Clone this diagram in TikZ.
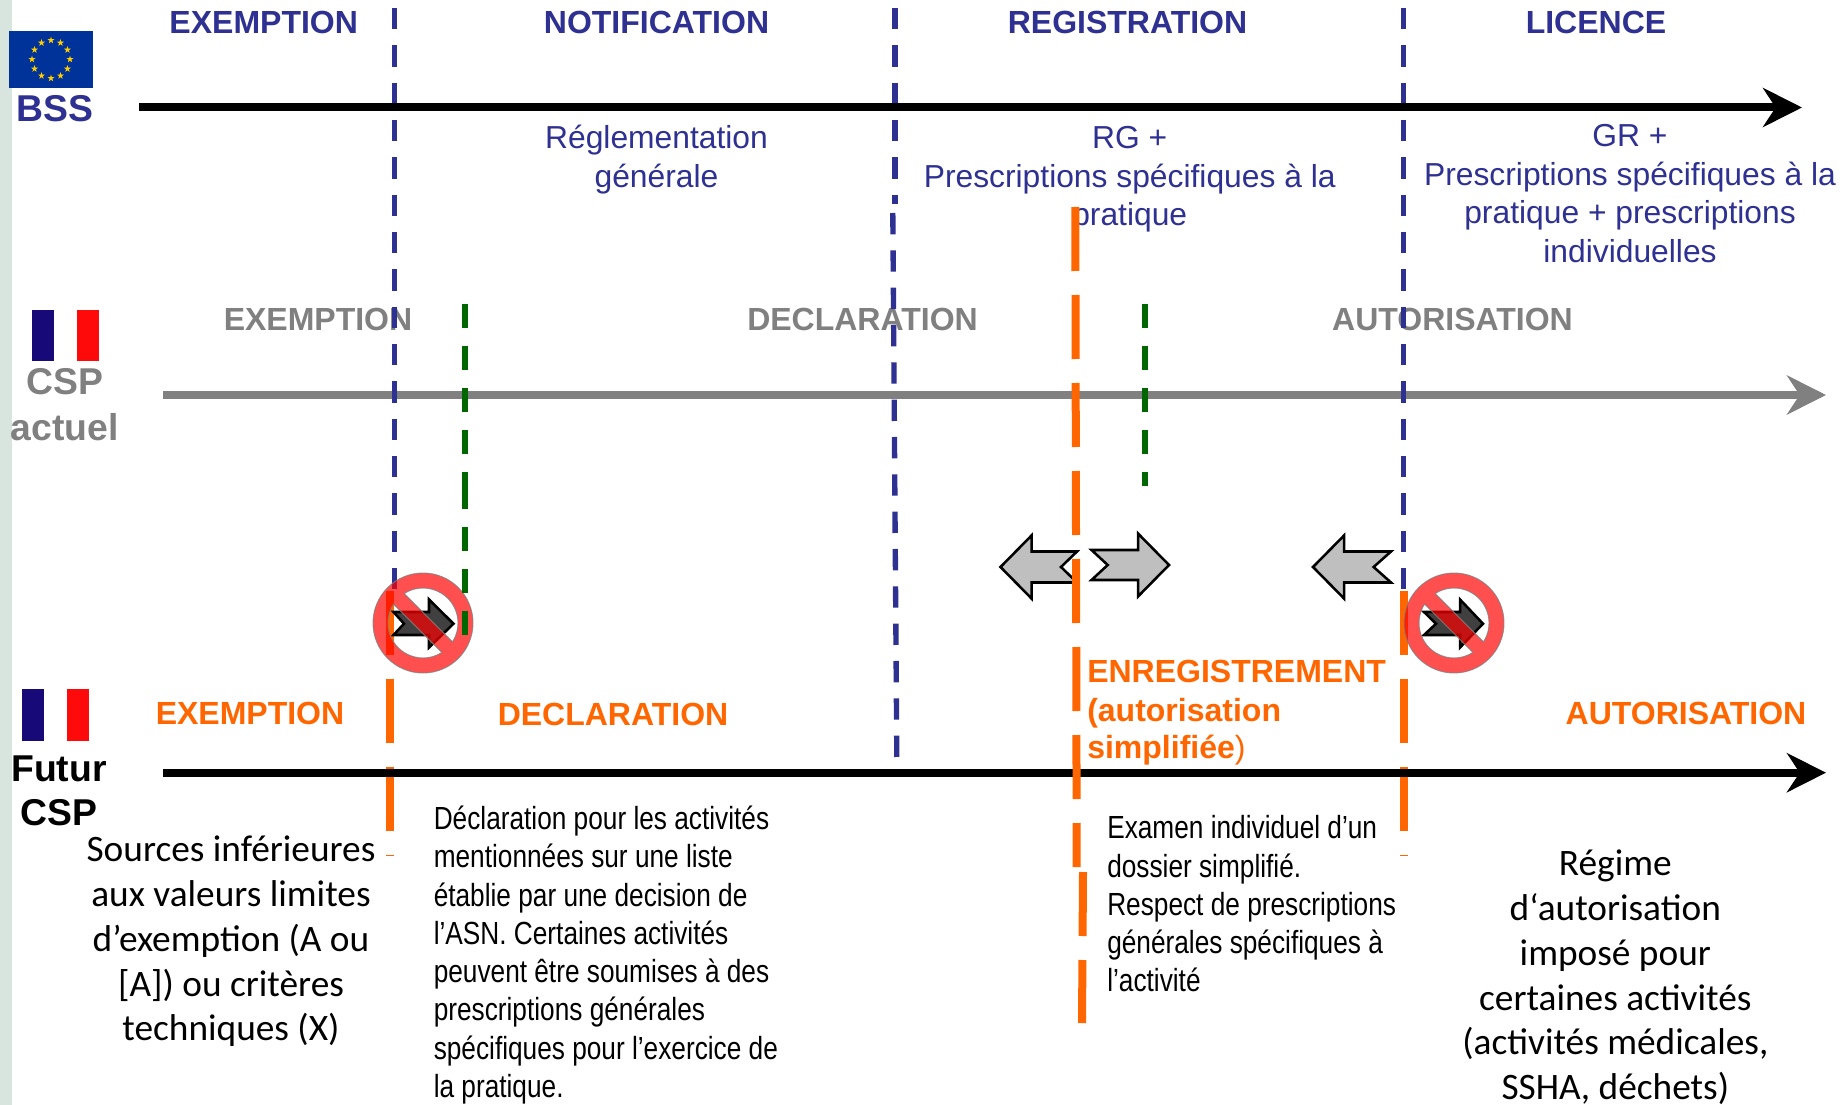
\documentclass[tikz,border=0pt]{standalone}
\usepackage{fontspec}
\setmainfont{Liberation Sans}
\newfontfamily\narrowf[FakeStretch=0.82]{Liberation Sans}
\newfontfamily\calib{Carlito}
\usetikzlibrary{arrows.meta,shapes.geometric}
\definecolor{bssblue}{HTML}{2E3192}
\definecolor{oran}{HTML}{FF6600}
\definecolor{dgreen}{HTML}{006600}
\definecolor{midgray}{HTML}{808080}
\definecolor{euflag}{HTML}{003399}
\definecolor{eustar}{HTML}{FFCC00}
\definecolor{frblue}{HTML}{170A78}
\definecolor{frred}{HTML}{FF0A0A}
\definecolor{band}{HTML}{D8E4DE}
\definecolor{arrowgray}{HTML}{BFBFBF}
\definecolor{arrowdark}{HTML}{404040}
\tikzset{
  x=0.75pt,y=-0.75pt,
  axisarrow/.style={line width=6pt,-{Stealth[length=29.25pt,width=29.25pt,inset=9.5pt]}},
  bluedash/.style={draw=bssblue,line width=4pt,dash pattern=on 16pt off 12pt},
  orangedash/.style={draw=oran,line width=6pt,dash pattern=on 48pt off 18pt},
  greendash/.style={draw=dgreen,line width=4.5pt,dash pattern=on 18pt off 13.5pt},
  head/.style={font=\bfseries\fontsize{24}{29}\selectfont,inner sep=0pt},
  side/.style={font=\bfseries\fontsize{28}{34}\selectfont,inner sep=0pt,anchor=base},
  bluetext/.style={text=bssblue,font=\fontsize{23.85}{29}\selectfont,align=center,inner sep=0pt},
  narrowtext/.style={text=black,font=\narrowf\fontsize{24}{28.7}\selectfont,align=left,inner sep=0pt,anchor=west},
  calibtext/.style={text=black,font=\calib\fontsize{28}{33.6}\selectfont,align=center,inner sep=0pt},
  blockarrow/.style={fill=arrowgray,draw=black,line width=1.9pt,miter limit=10},
  darkarrow/.style={fill=arrowdark,draw=black,line width=1.9pt,miter limit=10},
  noentry/.style={fill=red,fill opacity=0.69,draw=midgray,draw opacity=0.8,line width=0.7pt,even odd rule},
  eustarnode/.style={star,star points=5,star point ratio=2.5,fill=eustar,inner sep=0pt,minimum size=5.5pt},
}
\newcommand{\noentrysign}[1]{%
  \begin{scope}[shift={#1},x=0.75pt,y=0.75pt]
    \path[noentry] (0,0) circle (50)
      (-32.63:35) arc[start angle=-32.63,end angle=122.63,radius=35] -- cycle
      (147.37:35) arc[start angle=147.37,end angle=302.63,radius=35] -- cycle;
  \end{scope}}
\begin{document}
\begin{tikzpicture}
\path[use as bounding box,fill=white] (0,0) rectangle (1847,1105);
\fill[band] (0,0) rectangle (12,1105);

% flags
\fill[euflag] (9,31) rectangle (93,88);
\foreach \a in {0,30,...,330}
  \node[eustarnode] (st\a) at ([shift={(\a:19)}]51,59.3) {};
\fill[frblue] (32,310) rectangle (54,361);
\fill[frred] (77,310) rectangle (99,361);
\fill[frblue] (22,689) rectangle (44,741);
\fill[frred] (67,689) rectangle (89,741);

% end points of axes and dashed lines
\coordinate (axAs) at (139,107.5);   \coordinate (axAe) at (1802,107.5);
\coordinate (axBs) at (163,395);     \coordinate (axBe) at (1826,395);
\coordinate (axCs) at (163,772.7);   \coordinate (axCe) at (1826,772.7);
\coordinate (blA1) at (394.7,8);     \coordinate (blA2) at (394.7,589);
\coordinate (blB1) at (895,8);       \coordinate (blB2) at (895,204);
\coordinate (blC1) at (892.8,213);   \coordinate (blC2) at (896.8,757);
\coordinate (blD1) at (1403.7,8);    \coordinate (blD2) at (1403.7,589);
\coordinate (orA1) at (389.7,591);   \coordinate (orA2) at (389.7,856);
\coordinate (orB1) at (1403.7,591);  \coordinate (orB2) at (1403.7,856);
\coordinate (orC1) at (1075.3,207);  \coordinate (orC2) at (1076.7,867);
\coordinate (orD1) at (1083,872);    \coordinate (orD2) at (1082,1023);
\coordinate (grA1) at (465,304);     \coordinate (grA2) at (465,496);
\coordinate (grB1) at (465,485);     \coordinate (grB2) at (465,635);
\coordinate (grC1) at (1145.3,304);  \coordinate (grC2) at (1145.3,486);

% texts under the lines
\node[head,text=midgray] (gex) at (318,319) {EXEMPTION};
\node[head,text=midgray] (gde) at (862.5,319) {DECLARATION};
\node[head,text=midgray] (gau) at (1452.5,319) {AUTORISATION};
\node[head,text=bssblue] (bex) at (263.7,22.6) {EXEMPTION};
\node[head,text=bssblue] (bno) at (656.5,22.6) {NOTIFICATION};
\node[head,text=bssblue] (bre) at (1127.5,22.6) {REGISTRATION};
\node[head,text=bssblue] (bli) at (1596,22.6) {LICENCE};
\node[bluetext] (t1) at (656.5,159.5) {Réglementation\\générale};
\node[bluetext] (t2) at (1129.7,179.5) {RG +\\Prescriptions spécifiques à la\\pratique};
\node[bluetext] (t3) at (1630,193.5) {GR +\\Prescriptions spécifiques à la\\pratique + prescriptions\\individuelles};

% axes and dashed lines
\draw[axisarrow,midgray] (axBs) -- (axBe);
\draw[bluedash] (blA1) -- (blA2);
\draw[bluedash] (blB1) -- (blB2);
\draw[bluedash] (blC1) -- (blC2);
\draw[bluedash] (blD1) -- (blD2);
\draw[axisarrow,black] (axAs) -- (axAe);
\draw[orangedash] (orA1) -- (orA2);
\draw[orangedash] (orB1) -- (orB2);
\draw[axisarrow,black] (axCs) -- (axCe);
\draw[greendash] (grC1) -- (grC2);

% grey block arrows
\draw[blockarrow] (1000.5,567) -- (1031.5,535.5) -- (1031.5,551.5) -- (1077,551.5) -- (1061,567) -- (1077,582.5) -- (1031.5,582.5) -- (1031.5,598.5) -- cycle;
\draw[blockarrow] (1091.5,550) -- (1138,550) -- (1138,533.5) -- (1169,565) -- (1138,596.5) -- (1138,580) -- (1091.5,580) -- (1107.7,565) -- cycle;
\draw[blockarrow] (1313,567) -- (1344,535.5) -- (1344,551.5) -- (1391,551.5) -- (1373.6,567) -- (1391,582.5) -- (1344,582.5) -- (1344,598.5) -- cycle;
\draw[orangedash] (orC1) -- (orC2);
\draw[orangedash] (orD1) -- (orD2);

% forbidden arrows
\draw[darkarrow] (393.5,612) -- (429,612) -- (429,599.5) -- (453.5,623.7) -- (429,647.5) -- (429,635) -- (393.5,635) -- (404,623.7) -- cycle;
\draw[darkarrow] (1424,612) -- (1460,612) -- (1460,599.5) -- (1483,623.7) -- (1460,647.5) -- (1460,635) -- (1424,635) -- (1436,623.7) -- cycle;
\noentrysign{(423,623)}
\noentrysign{(1454,623)}
\draw[greendash] (grA1) -- (grA2);
\draw[greendash] (grB1) -- (grB2);

% side labels
\node[side,text=bssblue] (lbss) at (54.7,122) {BSS};
\node[side,text=midgray] (lcsp) at (65,394) {CSP};
\node[side,text=midgray] (lact) at (64.5,440) {actuel};
\node[side,text=black] (lfut) at (59,781) {Futur};
\node[side,text=black] (lcsf) at (59,825.5) {CSP};

% orange labels
\node[head,text=oran] (oex) at (250,713.7) {EXEMPTION};
\node[head,text=oran] (ode) at (613,714.3) {DECLARATION};
\node[head,text=oran] (oau) at (1686,713.5) {AUTORISATION};
\node[head,text=oran,anchor=base west] (oen1) at (1087,682) {ENREGISTREMENT};
\node[head,text=oran,anchor=base west] (oen2) at (1087,721) {(autorisation};
\node[head,text=oran,anchor=base west] (oen3) at (1087,758.5) {simplifiée{\mdseries)}};

% body texts
\node[calibtext] (c1) at (231,941.4) {Sources inférieures\\aux valeurs limites\\d’exemption (A ou\\{[}A]) ou critères\\techniques (X)};
\node[narrowtext] (c2) at (433.5,955) {Déclaration pour les activités\\mentionnées sur une liste\\établie par une decision de\\l’ASN. Certaines activités\\peuvent être soumises à des\\prescriptions générales\\spécifiques pour l’exercice de\\la pratique.};
\node[narrowtext] (c3) at (1107,904) {Examen individuel d’un\\dossier simplifié.\\Respect de prescriptions\\générales spécifiques à\\l’activité};
\node[calibtext] (c4) at (1615.3,977.5) {Régime\\d‘autorisation\\imposé pour\\certaines activités\\(activités médicales,\\SSHA, déchets)};
\end{tikzpicture}
\end{document}
